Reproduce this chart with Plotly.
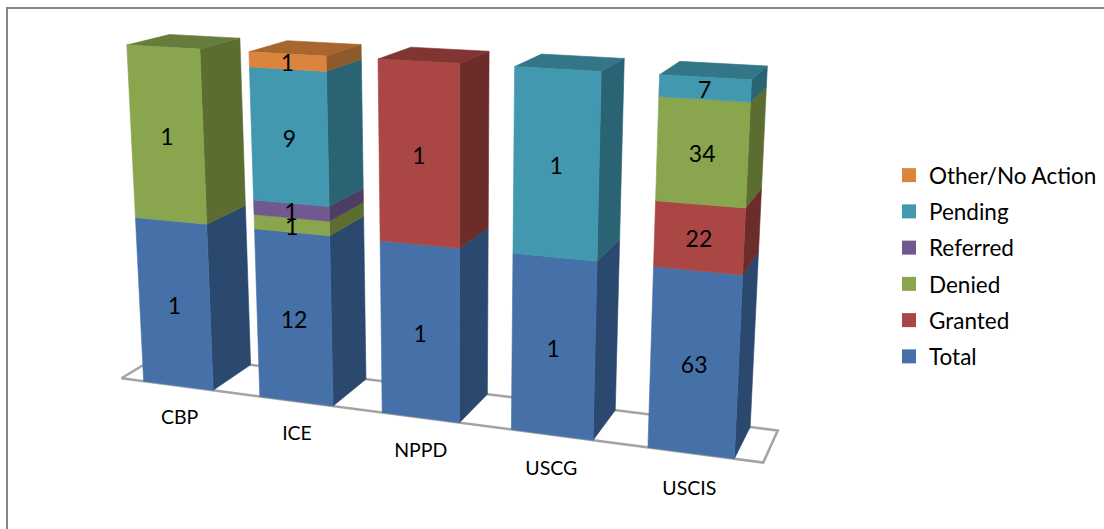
import numpy as np
import plotly.graph_objects as go

# Components and their case counts, stacked to 100% per component.
categories = ["CBP", "ICE", "NPPD", "USCG", "USCIS"]
total = [1, 12, 1, 1, 63]
granted = [0, 0, 1, 0, 22]
denied = [1, 1, 0, 0, 34]
referred = [0, 1, 0, 0, 0]
pending = [0, 9, 0, 1, 7]
other_no_action = [0, 1, 0, 0, 0]

series = [
    ("Total", total, "#4671A8", "#2B486E", "#34557F"),
    ("Granted", granted, "#AA4643", "#6C2C2A", "#803533"),
    ("Denied", denied, "#89A54E", "#5C6D32", "#667C3A"),
    ("Referred", referred, "#71588F", "#4E3D63", "#554270"),
    ("Pending", pending, "#4198AF", "#2A6374", "#337688"),
    ("Other/No Action", other_no_action, "#DB843D", "#8E5A2B", "#A8652E"),
]

# Pinhole camera for the pseudo-3D view, calibrated on the corners of the unit
# box (along the axis, depth, height) -> page position.
box_corners = [(0, 0, 0), (1, 0, 0), (0, 0, 1), (1, 0, 1),
               (0, 1, 0), (1, 1, 0), (0, 1, 1), (1, 1, 1)]
page_corners = [(120.5, 378), (763.2, 463), (104.5, 44), (782.2, 81),
                (163, 354), (777.7, 430), (146, 33), (796.7, 68)]

rows = []
for (X, Y, Z), (u, v) in zip(box_corners, page_corners):
    rows.append([X, Y, Z, 1, 0, 0, 0, 0, -u * X, -u * Y, -u * Z, -u])
    rows.append([0, 0, 0, 0, X, Y, Z, 1, -v * X, -v * Y, -v * Z, -v])
camera = np.linalg.svd(np.array(rows, float))[2][-1].reshape(3, 4)


def project(X, Y, Z):
    u, v, w = camera @ np.array([X, Y, Z, 1.0])
    return u / w, v / w


def add_polygon(xs, ys, corners):
    for c in corners + corners[:1]:
        u, v = project(*c)
        xs.append(u)
        ys.append(v)
    xs.append(None)
    ys.append(None)


n = len(categories)
pitch = 1 / n
bar_width = pitch * 0.605
column_sums = [sum(s[1][i] for s in series) for i in range(n)]

fig = go.Figure()

# Floor plate under the columns.
fx, fy = [], []
add_polygon(fx, fy, [(0, 0, 0), (1, 0, 0), (1, 1, 0), (0, 1, 0)])
fig.add_trace(go.Scatter(x=fx, y=fy, mode="lines", fill="toself", fillcolor="#FFFFFF",
                         line=dict(color="#A3A3A3", width=2.5), hoverinfo="skip", showlegend=False))

faces = {name: {"front": ([], []), "side": ([], []), "top": ([], [])} for name, *_ in series}
label_x, label_y, label_text = [], [], []

for i in range(n):
    x0 = (i + 0.5) * pitch - bar_width / 2
    x1 = x0 + bar_width
    base = 0.0
    present = [s for s in series if s[1][i] > 0]
    for name, values, *_ in present:
        z0 = base
        z1 = base + values[i] / column_sums[i]
        add_polygon(*faces[name]["front"], [(x0, 0, z0), (x1, 0, z0), (x1, 0, z1), (x0, 0, z1)])
        add_polygon(*faces[name]["side"], [(x1, 0, z0), (x1, 1, z0), (x1, 1, z1), (x1, 0, z1)])
        if name == present[-1][0]:
            add_polygon(*faces[name]["top"], [(x0, 0, z1), (x1, 0, z1), (x1, 1, z1), (x0, 1, z1)])
        u, v = project((x0 + x1) / 2, 0, (z0 + z1) / 2)
        label_x.append(u)
        label_y.append(v + 4)
        label_text.append(str(values[i]))
        base = z1

# Faces go back to front: sides and tops first, then the fronts.
for face, shade in (("side", 3), ("top", 4), ("front", 2)):
    for s in series:
        xs, ys = faces[s[0]][face]
        if xs:
            fig.add_trace(go.Scatter(x=xs, y=ys, mode="lines", fill="toself", fillcolor=s[shade],
                                     line=dict(color=s[shade], width=0.6), hoverinfo="skip",
                                     showlegend=False))

fig.add_trace(go.Scatter(x=label_x, y=label_y, mode="text", text=label_text, textposition="middle center",
                         textfont=dict(family="Lato", size=23, color="#000000"),
                         hoverinfo="skip", showlegend=False))

# Category names below the front edge of the floor.
cat_points = [project((i + 0.5) * pitch, 0, -0.104) for i in range(n)]
fig.add_trace(go.Scatter(x=[p[0] for p in cat_points], y=[p[1] for p in cat_points], mode="text",
                         text=categories, textposition="middle center",
                         textfont=dict(family="Lato", size=19.5, color="#000000"),
                         hoverinfo="skip", showlegend=False))

# Legend entries, top of the stack listed first.
for s in reversed(series):
    fig.add_trace(go.Scatter(x=[None], y=[None], mode="markers", name=s[0], legendgroup=s[0],
                             marker=dict(symbol="square", size=14, color=s[2], line=dict(width=0))))

fig.update_layout(
    width=1104,
    height=529,
    autosize=False,
    margin=dict(l=0, r=0, t=0, b=0),
    paper_bgcolor="#FFFFFF",
    plot_bgcolor="#FFFFFF",
    xaxis=dict(visible=False, range=[0, 1104], fixedrange=True),
    yaxis=dict(visible=False, range=[529, 0], fixedrange=True),
    legend=dict(x=889 / 1104, y=1 - 154 / 529, xanchor="left", yanchor="top",
                font=dict(family="Lato", size=22.5, color="#000000"),
                bgcolor="rgba(0,0,0,0)", tracegroupgap=4, itemclick=False, itemdoubleclick=False),
    shapes=[
        dict(type="line", x0=7, x1=7, y0=8, y1=529, line=dict(color="#868686", width=2)),
        dict(type="line", x0=6, x1=1104, y0=8, y1=8, line=dict(color="#868686", width=2)),
    ],
)

fig.write_html("out.html")
